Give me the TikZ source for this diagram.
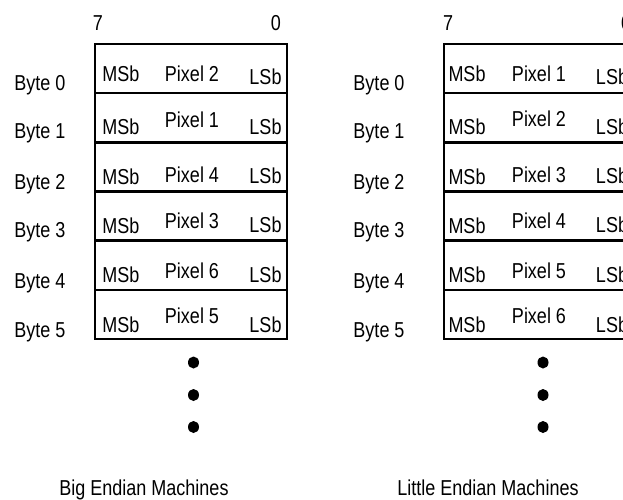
\documentclass[tikz,border=0pt]{standalone}
\usepackage{fontspec}
\usetikzlibrary{shapes.geometric}
\setmainfont{Liberation Sans}
\newcommand{\stx}[1]{\scalebox{1}[1.2]{#1}}
\begin{document}
\begin{tikzpicture}[x=1pt,y=-1pt,
  rowbox/.style={draw, line width=2.5pt, minimum width=192pt, minimum height=49.17pt, inner sep=0pt, outer sep=0pt},
  txt/.style={anchor=base, inner sep=0pt, font=\fontsize{18}{21}\selectfont},
  bigdot/.style={ellipse, fill=black, inner sep=0pt, minimum width=11pt, minimum height=12pt}]
\clip (0,0) rectangle (623,500);
\fill[white] (0,0) rectangle (623,500);
% ---------- Left: Big Endian ----------
\node[txt] (L7) at (98,31) {\stx{7}};
\node[txt] (Lz) at (276,31) {\stx{0}};
\node[rowbox] (L0) at (191,68.6) {};
\node[rowbox] (L1) at (191,117.8) {};
\node[rowbox] (L2) at (191,166.9) {};
\node[rowbox] (L3) at (191,216.1) {};
\node[rowbox] (L4) at (191,265.3) {};
\node[rowbox] (L5) at (191,314.4) {};
\node[txt] (LB0) at (40,91) {\stx{Byte 0}};
\node[txt] (LB1) at (40,139) {\stx{Byte 1}};
\node[txt] (LB2) at (40,189.5) {\stx{Byte 2}};
\node[txt] (LB3) at (40,237.5) {\stx{Byte 3}};
\node[txt] (LB4) at (40,288) {\stx{Byte 4}};
\node[txt] (LB5) at (40,337) {\stx{Byte 5}};
% row contents
\node[txt] (LM0) at (121,82) {\stx{MSb}};
\node[txt] (LP0) at (192,82) {\stx{Pixel 2}};
\node[txt] (LL0) at (265.5,85) {\stx{LSb}};
\node[txt] (LM1) at (121,135) {\stx{MSb}};
\node[txt] (LP1) at (192,128) {\stx{Pixel 1}};
\node[txt] (LL1) at (265.5,135) {\stx{LSb}};
\node[txt] (LM2) at (121,184) {\stx{MSb}};
\node[txt] (LP2) at (192,182) {\stx{Pixel 4}};
\node[txt] (LL2) at (265.5,183) {\stx{LSb}};
\node[txt] (LM3) at (121,233) {\stx{MSb}};
\node[txt] (LP3) at (192,228) {\stx{Pixel 3}};
\node[txt] (LL3) at (265.5,232) {\stx{LSb}};
\node[txt] (LM4) at (121,282) {\stx{MSb}};
\node[txt] (LP4) at (192,278) {\stx{Pixel 6}};
\node[txt] (LL4) at (265.5,282) {\stx{LSb}};
\node[txt] (LM5) at (121,332) {\stx{MSb}};
\node[txt] (LP5) at (192,323) {\stx{Pixel 5}};
\node[txt] (LL5) at (265.5,332) {\stx{LSb}};
\node[bigdot] (Ld1) at (193.5,362.5) {};
\node[bigdot] (Ld2) at (193.5,395) {};
\node[bigdot] (Ld3) at (193.5,427) {};
\node[txt] (LT) at (144,495) {\stx{Big Endian Machines}};
% ---------- Right: Little Endian ----------
\node[txt] (R7) at (448,31) {\stx{7}};
\node[txt] (Rz) at (626,31) {\stx{0}};
\node[rowbox] (R0) at (540,68.6) {};
\node[rowbox] (R1) at (540,117.8) {};
\node[rowbox] (R2) at (540,166.9) {};
\node[rowbox] (R3) at (540,216.1) {};
\node[rowbox] (R4) at (540,265.3) {};
\node[rowbox] (R5) at (540,314.4) {};
\node[txt] (RB0) at (379,91) {\stx{Byte 0}};
\node[txt] (RB1) at (379,139) {\stx{Byte 1}};
\node[txt] (RB2) at (379,189.5) {\stx{Byte 2}};
\node[txt] (RB3) at (379,237.5) {\stx{Byte 3}};
\node[txt] (RB4) at (379,288) {\stx{Byte 4}};
\node[txt] (RB5) at (379,337) {\stx{Byte 5}};
\node[txt] (RM0) at (467,82) {\stx{MSb}};
\node[txt] (RP0) at (539,82) {\stx{Pixel 1}};
\node[txt] (RL0) at (612,85) {\stx{LSb}};
\node[txt] (RM1) at (467,135) {\stx{MSb}};
\node[txt] (RP1) at (539,126) {\stx{Pixel 2}};
\node[txt] (RL1) at (612,135) {\stx{LSb}};
\node[txt] (RM2) at (467,184) {\stx{MSb}};
\node[txt] (RP2) at (539,182) {\stx{Pixel 3}};
\node[txt] (RL2) at (612,183) {\stx{LSb}};
\node[txt] (RM3) at (467,233) {\stx{MSb}};
\node[txt] (RP3) at (539,228) {\stx{Pixel 4}};
\node[txt] (RL3) at (612,232) {\stx{LSb}};
\node[txt] (RM4) at (467,282) {\stx{MSb}};
\node[txt] (RP4) at (539,278) {\stx{Pixel 5}};
\node[txt] (RL4) at (612,282) {\stx{LSb}};
\node[txt] (RM5) at (467,332) {\stx{MSb}};
\node[txt] (RP5) at (539,323) {\stx{Pixel 6}};
\node[txt] (RL5) at (612,332) {\stx{LSb}};
\node[bigdot] (Rd1) at (543,362.5) {};
\node[bigdot] (Rd2) at (543,395) {};
\node[bigdot] (Rd3) at (543,427) {};
\node[txt] (RT) at (488,495) {\stx{Little Endian Machines}};
\end{tikzpicture}
\end{document}
